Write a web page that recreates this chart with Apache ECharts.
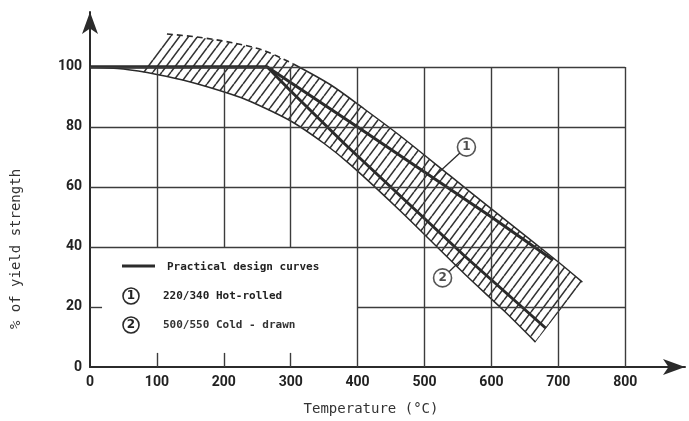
<!DOCTYPE html>
<html><head><meta charset="utf-8">
<script src="https://cdn.jsdelivr.net/npm/echarts@6/dist/echarts.min.js"></script>
<style>html,body{margin:0;padding:0;background:#fff}#c{width:689px;height:421px}</style>
</head><body><div id="c"></div>
<script>
// ---- data ----
const xTickValues = [0, 100, 200, 300, 400, 500, 600, 700, 800];
const yTickValues = [0, 20, 40, 60, 80, 100];
// scatter band (hatched)
const bandStart = [71, 98.6];
const lowerEdge = [[0,100],[50,99.3],[100,97.5],[150,95],[210,91],[240,88.5],[300,82],[350,74.5],[390,67.3],[464,52],[560,31],[620,18.5],[666,8.3]];
const upperEdge = [[115,111],[160,110],[215,108],[260,105.5],[304,101],[360,94],[410,86],[464,77],[539,63.6],[600,52.7],[700,35],[736,28.3]];
// practical design curves
const curve1 = [[0,100],[265,100],[400,80],[500,65],[600,50],[692,35.7]];   // 220/340 hot-rolled
const curve2 = [[0,100],[265,100],[300,92],[380,74.5],[464,57],[560,37],[681,13]]; // 500/550 cold-drawn
// curve tags (x, y, label) and leader lines
const tags = [[562.7, 73.3, '1'], [527, 29.7, '2']];
const leader1 = [[553.7, 71.5], [509, 62.3]];
const leader2 = [[535.5, 31.5], [561, 37]];
// grid segments: horizontal [y, x1, x2], vertical [x, y1, y2]
const hGrid = [[100,0,800],[80,0,800],[60,0,800],[40,0,800],[20,400,800]];
const vGrid = [[100,40,100],[200,40,100],[300,40,100],[400,0,100],[500,0,100],[600,0,100],[700,0,100],[800,0,100]];
const vTicks = [[100,0,4.7],[200,0,4.7],[300,0,4.7]];
const hTicks = [[20,0,18]];
const legendTexts = ['Practical design curves', '220/340 Hot-rolled', '500/550 Cold - drawn'];
const xName = 'Temperature (°C)';
const yName = '% of yield strength';

// ---- build ----
function hatch(){
  const w = 9, h = 12;
  const c = document.createElement('canvas'); c.width = w; c.height = h;
  const g = c.getContext('2d');
  g.strokeStyle = '#333'; g.lineWidth = 1.6;
  g.beginPath();
  g.moveTo(0, h); g.lineTo(w, 0);
  g.moveTo(-w, h); g.lineTo(0, 0);
  g.moveTo(w, h); g.lineTo(2 * w, 0);
  g.stroke();
  return c;
}
const pattern = hatch();
const bandPoly = [bandStart].concat(lowerEdge.filter(p => p[0] > bandStart[0]), upperEdge.slice().reverse());

const gridLines = [];
hGrid.forEach(s => gridLines.push([{coord:[s[1], s[0]]}, {coord:[s[2], s[0]]}]));
vGrid.forEach(s => gridLines.push([{coord:[s[0], s[1]]}, {coord:[s[0], s[2]]}]));
vTicks.forEach(s => gridLines.push([{coord:[s[0], s[1]]}, {coord:[s[0], s[2]]}]));
hTicks.forEach(s => gridLines.push([{coord:[s[1], s[0]]}, {coord:[s[2], s[0]]}]));

const INK = '#2b2b2b';
const lineS = (data, width, extra) => Object.assign({
  type: 'line', data: data, symbol: 'none', silent: true, z: 4,
  lineStyle: {color: INK, width: width}
}, extra || {});

const chart = echarts.init(document.getElementById('c'), null, {renderer: 'canvas'});
chart.setOption({
  animation: false,
  backgroundColor: '#fff',
  grid: {left: 90, right: 4, top: 12, bottom: 54},
  xAxis: {
    type: 'value', min: 0, max: 889.4, interval: 100,
    axisLine: {show: true, symbol: ['none', 'arrow'], symbolSize: [12, 22], lineStyle: {color: INK, width: 2}},
    axisTick: {show: false}, splitLine: {show: false},
    axisLabel: {showMaxLabel: false, color: '#222', fontSize: 14, fontWeight: 'bold', fontFamily: 'Roboto', margin: 8,
      formatter: v => xTickValues.indexOf(v) >= 0 ? String(v) : ''}
  },
  yAxis: {
    type: 'value', min: 0, max: 118.33, interval: 20,
    axisLine: {show: true, symbol: ['none', 'arrow'], symbolSize: [12, 22], lineStyle: {color: INK, width: 2}},
    axisTick: {show: false}, splitLine: {show: false},
    axisLabel: {showMaxLabel: false, color: '#222', fontSize: 14, fontWeight: 'bold', fontFamily: 'Roboto', margin: 8,
      formatter: v => yTickValues.indexOf(v) >= 0 ? String(v) : ''}
  },
  series: [
    {
      type: 'line', data: [], silent: true, z: 1,
      markLine: {silent: true, symbol: ['none', 'none'], label: {show: false}, animation: false,
        lineStyle: {color: '#3c3c3c', width: 1.4, type: 'solid'}, data: gridLines}
    },
    {
      type: 'custom', coordinateSystem: 'cartesian2d', data: [[0, 0]], silent: true, z: 2,
      renderItem: (params, api) => ({
        type: 'polygon',
        shape: {points: bandPoly.map(p => api.coord(p))},
        style: {fill: {image: pattern, repeat: 'repeat'}, stroke: null}
      })
    },
    lineS(lowerEdge, 1.5, {smooth: 0.3}),
    lineS(upperEdge.filter(p => p[0] <= 304), 1.5, {smooth: 0.3, lineStyle: {color: INK, width: 1.6, type: [6, 4]}}),
    lineS(upperEdge.filter(p => p[0] >= 304), 1.5, {smooth: 0.3}),
    lineS(curve1, 3),
    lineS(curve2, 3),
    lineS(leader1, 1.3),
    lineS(leader2, 1.3),
    {
      type: 'scatter', data: tags, symbol: 'circle', symbolSize: 18, silent: true, z: 6,
      itemStyle: {color: '#fff', borderColor: INK, borderWidth: 1.6},
      label: {show: true, position: 'inside', formatter: p => p.value[2], color: '#222', fontSize: 12, fontWeight: 'bold', fontFamily: 'DejaVu Sans'}
    }
  ],
  graphic: [
    {type: 'line', shape: {x1: 122, y1: 266, x2: 155, y2: 266}, style: {stroke: INK, lineWidth: 3}},
    {type: 'text', x: 167, y: 267, style: {text: legendTexts[0], font: 'bold 11px "DejaVu Sans Mono"', fill: '#222', verticalAlign: 'middle'}},
    {type: 'circle', shape: {cx: 131, cy: 296, r: 8}, style: {fill: '#fff', stroke: INK, lineWidth: 1.6}},
    {type: 'text', x: 131, y: 296, style: {text: '1', font: 'bold 12px "DejaVu Sans"', fill: '#222', align: 'center', verticalAlign: 'middle'}},
    {type: 'text', x: 163, y: 296, style: {text: legendTexts[1], font: 'bold 11px "DejaVu Sans Mono"', fill: '#222', verticalAlign: 'middle'}},
    {type: 'circle', shape: {cx: 131, cy: 325, r: 8}, style: {fill: '#fff', stroke: INK, lineWidth: 1.6}},
    {type: 'text', x: 131, y: 325, style: {text: '2', font: 'bold 12px "DejaVu Sans"', fill: '#222', align: 'center', verticalAlign: 'middle'}},
    {type: 'text', x: 163, y: 325, style: {text: legendTexts[2], font: 'bold 11px "DejaVu Sans Mono"', fill: '#333', verticalAlign: 'middle'}},
    {type: 'text', x: 371, y: 409, style: {text: xName, font: '14px "DejaVu Sans Mono"', fill: '#333', align: 'center', verticalAlign: 'middle'}},
    {type: 'text', x: 16, y: 249, rotation: Math.PI / 2, style: {text: yName, font: '14px "DejaVu Sans Mono"', fill: '#333', align: 'center', verticalAlign: 'middle'}}
  ]
});
</script>
</body></html>
